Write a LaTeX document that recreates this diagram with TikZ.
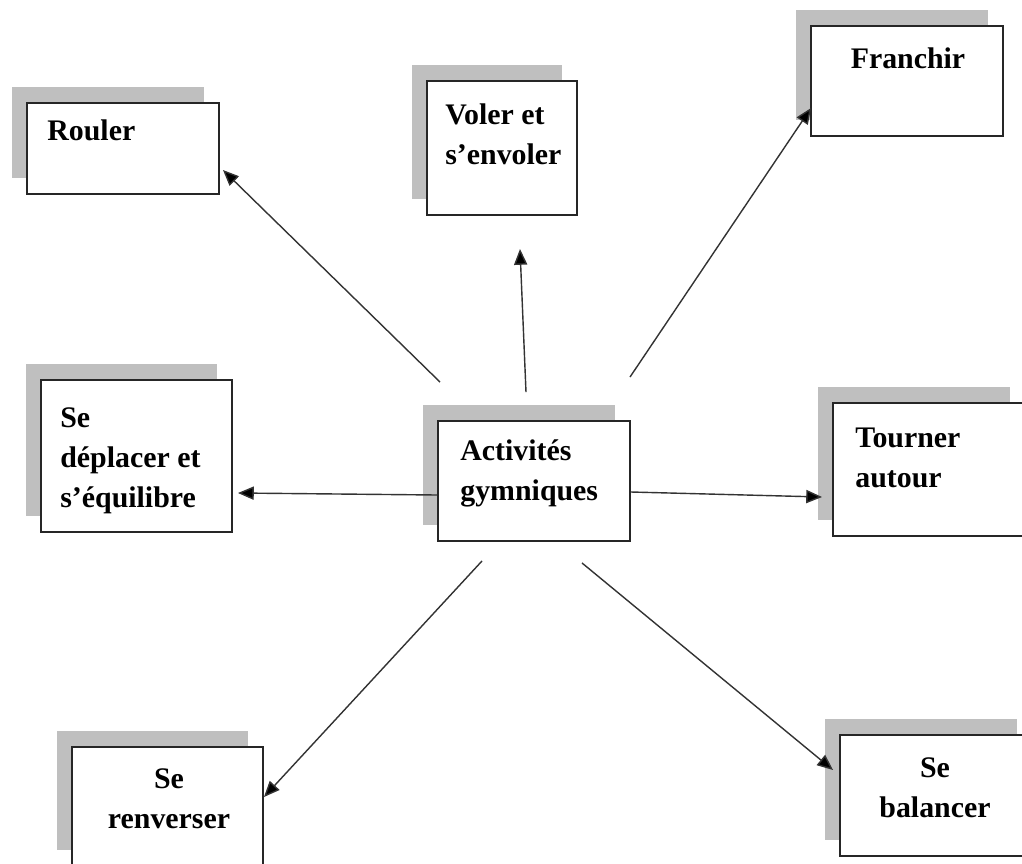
\documentclass[tikz,border=0pt]{standalone}
\usepackage{fontspec}
\setmainfont{Liberation Serif}
\usetikzlibrary{shadows,arrows.meta}
\tikzset{boite/.style={draw=black!85,line width=1.1pt,fill=white,
                       inner sep=0pt,
                       drop shadow={shadow xshift=-0.3cm,shadow yshift=0.32cm,
                                    fill=black!25,opacity=1}}}
\tikzset{texte/.style={font=\fontsize{17}{22.7}\selectfont\bfseries,
                       inner sep=0pt,anchor=base west,align=left}}
\tikzset{textemilieu/.style={texte,anchor=base,align=center}}
\tikzset{fleche/.style={draw=black!80,line width=0.8pt,
                        -{Triangle[length=9pt,width=7.5pt,fill=black]}}}

\begin{document}
\begin{tikzpicture}[x=0.02cm,y=-0.02cm]
    \useasboundingbox (0,0) rectangle (1022,863);
    \clip (0,0) rectangle (1022,863);
    % Draw the boxes with their shadows
    \foreach \nom/\cx/\cy/\w/\h in {rouler/123/148.5/192/91,
                                   voler/502/148/150/134,
                                   franchir/907/81/192/110,
                                   centre/534/481/192/120,
                                   deplacer/136.5/456/191/152,
                                   tourner/929/469.5/192/133,
                                   renverser/167.5/806.5/191/119,
                                   balancer/936/795.5/192/121}{%
          \node[boite,minimum width=\w*0.02cm,minimum height=\h*0.02cm]
                (\nom) at (\cx,\cy) {};
        }
    % Texts in the boxes (placed on the baseline of their last line)
    \node[texte] (tRouler) at (47,140) {Rouler};
    \node[texte] (tVoler) at (445,164) {Voler et\\s’envoler};
    \node[textemilieu] (tFranchir) at (908,68) {Franchir};
    \node[texte] (tCentre) at (460,500) {Activités\\gymniques};
    \node[texte] (tDeplacer) at (60,507) {Se\\déplacer et\\s’équilibre};
    \node[texte] (tTourner) at (855,487) {Tourner\\autour};
    \node[textemilieu] (tRenverser) at (169,828) {Se\\renverser};
    \node[textemilieu] (tBalancer) at (935,817) {Se\\balancer};
    % Free ends of the arrows, near the central box
    \coordinate (dRouler) at ([shift={(-94,-38)}]centre.north);
    \coordinate (dVoler) at ([shift={(-8,-28)}]centre.north);
    \coordinate (dFranchir) at ([shift={(96,-43)}]centre.north);
    \coordinate (dDeplacer) at ([shift={(0,14)}]centre.west);
    \coordinate (dTourner) at ([shift={(0,11)}]centre.east);
    \coordinate (dRenverser) at ([shift={(-52,19)}]centre.south);
    \coordinate (dBalancer) at ([shift={(48,21)}]centre.south);
    % Draw the arrows
    \draw[fleche] (dRouler) -- ([shift={(3,21.5)}]rouler.east);
    \draw[fleche] (dVoler) -- ([shift={(18,33)}]voler.south);
    \draw[fleche] (dFranchir) -- ([shift={(1,27)}]franchir.west);
    \draw[fleche] (dDeplacer) -- ([shift={(5,37)}]deplacer.east);
    \draw[fleche] (dTourner) -- ([shift={(-10,27.5)}]tourner.west);
    \draw[fleche] (dRenverser) -- ([shift={(0,-9.5)}]renverser.east);
    \draw[fleche] (dBalancer) -- ([shift={(-6,-25.5)}]balancer.west);
\end{tikzpicture}
\end{document}
